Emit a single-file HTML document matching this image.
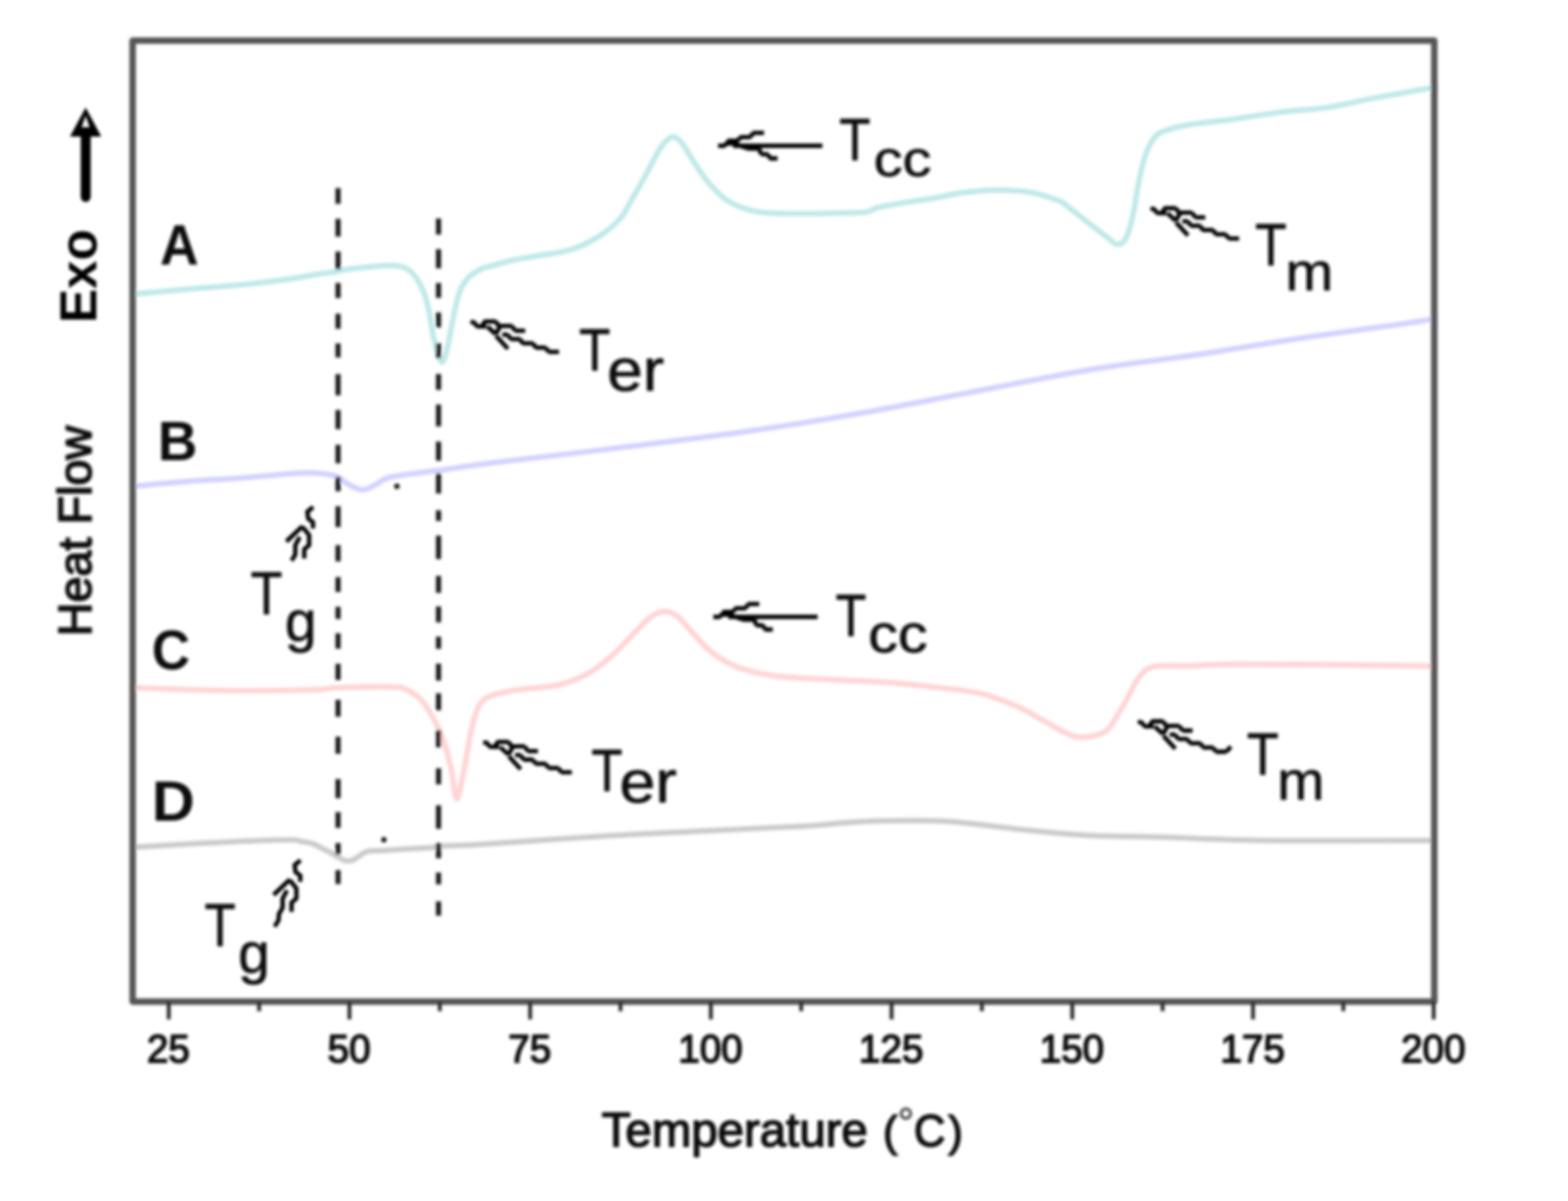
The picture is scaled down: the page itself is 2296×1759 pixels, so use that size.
<!DOCTYPE html><html><head><meta charset="utf-8"><title>DSC thermograms</title><style>html,body{margin:0;padding:0;background:#fff;overflow:hidden}svg{display:block}</style></head><body>
<svg xmlns="http://www.w3.org/2000/svg" width="2296" height="1759" viewBox="0 0 2296 1759">
<defs><filter id="bl" x="0" y="0" width="2296" height="1759" filterUnits="userSpaceOnUse"><feGaussianBlur stdDeviation="2.0"/></filter></defs>
<rect width="2296" height="1759" fill="#fff"/>
<g filter="url(#bl)">
<path d="M194.0,431.0 C207.0,429.8 245.3,426.0 272.0,423.7 C298.7,421.4 328.9,419.5 354.0,417.0 C379.1,414.5 404.3,411.2 422.6,408.7 C440.9,406.2 451.8,403.6 463.6,401.8 C475.5,400.0 486.9,398.8 493.7,397.7 C500.5,396.6 493.7,396.4 504.6,395.0 C515.6,393.6 546.8,390.1 559.4,389.2 C572.0,388.2 574.6,388.9 580.0,389.3 C585.4,389.7 588.7,390.6 592.0,391.8 C595.3,393.0 597.0,393.8 600.0,396.4 C603.0,399.0 606.5,402.1 610.0,407.5 C613.5,412.9 617.7,420.9 620.7,428.9 C623.7,436.9 626.1,445.9 628.2,455.7 C630.4,465.5 631.6,478.0 633.6,487.8 C635.6,497.6 637.7,507.5 640.0,514.6 C642.3,521.8 645.2,530.7 647.5,530.7 C649.8,530.7 651.9,521.8 653.9,514.6 C655.9,507.5 657.3,497.6 659.3,487.8 C661.3,478.0 663.4,465.9 665.7,455.7 C668.0,445.5 670.0,434.8 673.2,426.8 C676.4,418.8 680.0,412.9 685.0,407.5 C690.0,402.1 697.4,397.6 703.2,394.6 C709.0,391.6 712.0,391.6 720.0,389.3 C728.0,387.0 740.2,383.4 751.0,381.0 C761.8,378.6 771.0,377.5 785.0,375.0 C799.0,372.5 819.6,370.7 834.7,366.0 C849.8,361.3 863.5,354.7 875.8,347.0 C888.1,339.3 900.4,328.7 908.6,319.6 C916.8,310.5 919.1,302.3 925.0,292.3 C930.9,282.3 937.2,271.7 944.0,259.4 C950.8,247.1 959.4,228.2 966.0,218.4 C972.6,208.6 978.3,202.0 983.8,200.6 C989.3,199.2 993.2,203.6 998.9,210.2 C1004.6,216.8 1011.1,230.3 1018.0,240.3 C1024.8,250.3 1031.8,261.3 1040.0,270.4 C1048.2,279.5 1055.7,288.4 1067.0,295.0 C1078.3,301.6 1092.0,307.0 1108.0,310.0 C1124.0,313.0 1142.7,312.5 1163.0,312.8 C1183.3,313.1 1212.4,312.4 1230.0,312.0 C1247.6,311.6 1259.1,311.9 1268.6,310.5 C1278.1,309.1 1276.2,306.0 1286.9,303.5 C1297.6,301.0 1318.8,297.9 1332.5,295.6 C1346.2,293.4 1356.8,292.1 1369.0,290.0 C1381.2,287.9 1393.3,284.6 1405.5,282.8 C1417.7,281.0 1429.8,279.9 1442.0,279.2 C1454.2,278.5 1466.3,278.2 1478.5,278.8 C1490.7,279.4 1503.1,280.3 1515.0,282.8 C1526.9,285.3 1542.7,291.1 1550.0,293.8 C1557.3,296.5 1552.5,294.2 1559.0,299.0 C1565.5,303.8 1578.9,314.8 1589.0,322.7 C1599.1,330.6 1611.8,340.4 1619.7,346.3 C1627.6,352.2 1631.5,358.1 1636.6,358.1 C1641.6,358.1 1646.1,354.5 1650.0,346.3 C1653.9,338.1 1657.4,322.1 1660.2,309.2 C1663.0,296.3 1664.2,282.2 1667.0,268.7 C1669.8,255.2 1673.1,239.4 1677.0,228.2 C1680.9,216.9 1685.5,207.4 1690.6,201.2 C1695.7,195.0 1699.0,194.1 1707.4,191.0 C1715.8,187.9 1724.1,185.5 1741.0,182.7 C1757.9,179.9 1786.2,177.3 1808.7,174.2 C1831.2,171.1 1853.5,166.9 1876.0,164.1 C1898.5,161.3 1921.1,160.8 1943.6,157.4 C1966.1,154.0 1984.9,148.8 2011.0,143.9 C2037.1,139.0 2085.2,130.7 2100.0,128.0" fill="none" stroke="#c0e8e8" stroke-width="8" stroke-linejoin="round" stroke-linecap="round"/>
<path d="M194.0,712.5 C207.0,711.3 245.3,707.4 272.0,705.3 C298.7,703.2 326.6,701.9 354.0,699.9 C381.4,697.9 417.9,694.1 436.2,693.0 C454.5,691.9 454.5,692.3 463.6,693.0 C472.7,693.7 482.8,694.1 491.0,697.1 C499.2,700.1 506.0,707.4 512.8,710.8 C519.6,714.2 525.6,717.8 532.0,717.6 C538.4,717.4 544.2,712.6 551.0,709.4 C557.8,706.2 557.9,701.9 573.0,698.5 C588.1,695.1 618.6,692.2 641.4,689.0 C664.2,685.8 686.7,682.3 709.8,679.3 C732.9,676.3 741.7,675.5 780.0,670.9 C818.3,666.3 886.4,658.4 939.6,651.7 C992.8,645.1 1046.0,638.7 1099.2,631.0 C1152.4,623.3 1205.6,614.7 1258.8,605.4 C1312.0,596.1 1361.5,585.9 1418.4,575.1 C1475.4,564.3 1545.1,550.0 1600.5,540.8 C1655.9,531.6 1700.8,527.3 1751.0,519.8 C1801.2,512.3 1851.2,503.2 1901.4,495.7 C1951.6,488.2 2018.9,479.4 2052.0,474.6 C2085.1,469.8 2092.0,468.3 2100.0,467.0" fill="none" stroke="#d2d2ff" stroke-width="8" stroke-linejoin="round" stroke-linecap="round"/>
<path d="M194.0,1007.2 C216.1,1007.9 281.9,1010.8 326.8,1011.3 C371.7,1011.8 436.2,1010.7 463.6,1010.0 C491.0,1009.3 472.8,1007.9 491.0,1007.2 C509.2,1006.5 555.7,1005.4 573.0,1005.9 C590.3,1006.4 587.7,1006.8 595.0,1010.0 C602.3,1013.2 610.4,1018.4 616.8,1025.0 C623.2,1031.6 627.7,1039.6 633.2,1049.6 C638.7,1059.6 645.0,1072.4 649.6,1085.2 C654.2,1098.0 657.4,1112.1 660.6,1126.2 C663.8,1140.3 665.6,1170.0 668.8,1170.0 C672.0,1170.0 676.1,1143.5 679.7,1126.2 C683.4,1108.9 687.1,1081.5 690.7,1066.0 C694.4,1050.5 697.1,1041.0 701.6,1033.2 C706.1,1025.5 709.8,1023.1 718.0,1019.5 C726.2,1015.9 739.1,1013.4 750.9,1011.3 C762.7,1009.2 777.3,1008.5 789.0,1007.0 C800.7,1005.5 808.8,1005.8 821.0,1002.3 C833.2,998.8 849.7,992.8 862.0,985.9 C874.3,979.0 884.5,970.3 895.0,961.2 C905.5,952.1 915.4,940.7 925.0,931.1 C934.6,921.5 944.2,909.7 952.4,903.8 C960.6,897.9 967.5,895.6 974.3,895.6 C981.1,895.6 986.1,897.9 993.4,903.8 C1000.7,909.7 1009.8,922.4 1018.0,931.1 C1026.2,939.8 1032.1,948.0 1042.6,955.8 C1053.1,963.5 1065.5,971.9 1081.0,977.6 C1096.5,983.3 1112.9,987.0 1135.7,990.0 C1158.5,993.0 1190.4,993.8 1217.7,995.4 C1245.0,997.0 1272.8,997.5 1299.8,999.5 C1326.8,1001.5 1358.4,1005.1 1380.0,1007.6 C1401.6,1010.1 1415.6,1011.5 1429.3,1014.2 C1443.0,1016.9 1451.0,1020.2 1462.0,1024.0 C1473.0,1027.8 1484.0,1032.0 1495.0,1037.2 C1506.0,1042.4 1516.9,1049.2 1527.8,1055.2 C1538.7,1061.2 1551.0,1069.2 1560.6,1073.3 C1570.2,1077.4 1575.7,1080.2 1585.3,1079.9 C1594.9,1079.6 1609.8,1076.6 1618.0,1071.7 C1626.2,1066.8 1629.0,1058.5 1634.5,1050.3 C1640.0,1042.1 1645.5,1032.0 1651.0,1022.4 C1656.5,1012.8 1661.1,1000.5 1667.4,992.8 C1673.7,985.1 1676.6,979.3 1688.7,976.4 C1700.8,973.5 1720.0,975.8 1740.0,975.2 C1760.0,974.6 1763.5,973.2 1808.7,973.0 C1853.9,972.8 1962.5,973.7 2011.0,974.2 C2059.6,974.7 2085.2,975.6 2100.0,975.9" fill="none" stroke="#ffd4d4" stroke-width="8" stroke-linejoin="round" stroke-linecap="round"/>
<path d="M194.0,1241.0 C208.1,1240.2 251.4,1237.5 278.6,1236.0 C305.8,1234.5 332.6,1233.0 357.2,1232.0 C381.8,1231.0 412.2,1230.0 426.0,1230.0 C439.8,1230.0 434.7,1231.2 440.0,1232.2 C445.3,1233.2 451.9,1233.7 457.8,1235.7 C463.7,1237.8 471.0,1242.2 475.6,1244.5 C480.2,1246.8 481.8,1247.4 485.5,1249.5 C489.2,1251.6 494.4,1255.1 498.0,1257.0 C501.6,1258.9 504.1,1260.7 507.4,1261.0 C510.7,1261.3 514.2,1260.7 518.0,1259.0 C521.8,1257.3 526.3,1253.1 530.0,1251.0 C533.7,1248.9 535.2,1247.4 540.0,1246.5 C544.8,1245.6 549.6,1246.3 558.6,1245.8 C567.6,1245.3 582.1,1244.1 594.0,1243.4 C605.9,1242.7 619.8,1242.4 629.7,1241.6 C639.6,1240.8 641.7,1239.5 653.4,1238.7 C665.1,1237.9 661.6,1239.3 700.0,1236.9 C738.4,1234.5 820.9,1228.2 884.0,1224.5 C947.1,1220.8 1028.8,1217.2 1078.5,1214.7 C1128.2,1212.2 1155.6,1211.3 1182.0,1209.7 C1208.4,1208.1 1218.5,1206.2 1236.8,1205.0 C1255.0,1203.8 1268.7,1202.8 1291.5,1202.3 C1314.3,1201.8 1350.8,1201.5 1373.6,1202.3 C1396.4,1203.1 1405.5,1204.6 1428.3,1207.0 C1451.1,1209.4 1483.0,1213.8 1510.4,1216.5 C1537.8,1219.2 1560.9,1221.8 1592.5,1223.4 C1624.1,1225.0 1656.2,1224.8 1700.0,1226.1 C1743.8,1227.4 1788.8,1230.2 1855.5,1231.0 C1922.2,1231.8 2059.2,1231.0 2100.0,1231.0" fill="none" stroke="#cbcbcb" stroke-width="8" stroke-linejoin="round" stroke-linecap="round"/>
<path d="M495.0,275.5V298.5M495.0,320.5V346.5M495.0,368.5V394.5M495.0,414.5V436.5M495.0,459.5V481.5M495.0,503.0V523.5M495.0,547.9V579.0M495.0,600.5V628.5M495.0,651.5V678.5M495.0,698.5V719.5M495.0,741.5V772.0M495.0,798.5V822.2M495.0,845.3V867.1M495.0,888.7V906.5M495.0,927.4V949.9M495.0,972.3V995.7M495.0,1025.0V1049.8M495.0,1079.1V1104.0M495.0,1141.1V1169.0M495.0,1189.5V1212.5M495.0,1234.8V1251.5M495.0,1274.5V1294.7M642.1,320.1V343.4M642.1,365.0V392.9M642.1,414.5V436.3M642.1,457.8V479.6M642.1,502.7V524.5M642.1,547.7V571.0M642.1,592.6V624.4M642.1,646.8V674.7M642.1,693.2V722.7M642.1,747.4V763.0M642.1,784.6V818.7M642.1,843.4V868.3M642.1,888.3V911.6M642.1,932.4V950.3M642.1,971.9V996.8M642.1,1015.4V1040.3M642.1,1069.6V1094.5M642.1,1125.3V1148.7M642.1,1179.5V1213.7M642.1,1234.7V1256.9M642.1,1278.1V1295.3M642.1,1320.2V1340.9" stroke="#1c1c1c" stroke-width="7.5" fill="none"/>
<circle cx="581.2" cy="712.2" r="3.9" fill="#111"/>
<circle cx="562.1" cy="1229.8" r="3.9" fill="#111"/>
<path d="M194.2,59.6H2100.2V1466.9H194.2Z" fill="none" stroke="#555555" stroke-width="9.5" stroke-linejoin="round"/>
<path d="M247.1,1466.9V1493.0 M511.7,1466.9V1493.0 M776.3,1466.9V1493.0 M1040.9,1466.9V1493.0 M1305.5,1466.9V1493.0 M1570.1,1466.9V1493.0 M1834.7,1466.9V1493.0 M2099.3,1466.9V1493.0 M379.4,1466.9V1481.0 M644.0,1466.9V1481.0 M908.6,1466.9V1481.0 M1173.2,1466.9V1481.0 M1437.8,1466.9V1481.0 M1702.4,1466.9V1481.0 M1967.0,1466.9V1481.0" stroke="#262626" stroke-width="5.5" fill="none"/>
<g font-family="Liberation Sans, Arial, Helvetica, sans-serif" fill="#111">
<text x="246.6" y="1556.3" font-size="56.5" text-anchor="middle" stroke="#111" stroke-width="2.2">25</text>
<text x="511.2" y="1556.3" font-size="56.5" text-anchor="middle" stroke="#111" stroke-width="2.2">50</text>
<text x="775.8" y="1556.3" font-size="56.5" text-anchor="middle" stroke="#111" stroke-width="2.2">75</text>
<text x="1040.4" y="1556.3" font-size="56.5" text-anchor="middle" stroke="#111" stroke-width="2.2">100</text>
<text x="1305.0" y="1556.3" font-size="56.5" text-anchor="middle" stroke="#111" stroke-width="2.2">125</text>
<text x="1569.6" y="1556.3" font-size="56.5" text-anchor="middle" stroke="#111" stroke-width="2.2">150</text>
<text x="1834.2" y="1556.3" font-size="56.5" text-anchor="middle" stroke="#111" stroke-width="2.2">175</text>
<text x="2098.8" y="1556.3" font-size="56.5" text-anchor="middle" stroke="#111" stroke-width="2.2">200</text>
<text transform="translate(881.11,1678.6) scale(0.99,1)" font-size="70.1" stroke="#111" stroke-width="2.2">Temperature</text>
<text x="1293.1" y="1678.6" font-size="63" stroke="#111" stroke-width="2.2">(</text>
<text transform="translate(1338.2,1678.6) scale(0.946,1)" font-size="67.3" stroke="#111" stroke-width="2.2">C</text>
<text x="1388.8" y="1678.6" font-size="63" stroke="#111" stroke-width="2.2">)</text>
<circle cx="1326.5" cy="1631" r="7" fill="none" stroke="#555" stroke-width="4.5"/>
<text transform="translate(133.3,931.9) rotate(-90) scale(0.997,1)" font-size="68.7" stroke="#111" stroke-width="2.4">Heat Flow</text>
<text transform="translate(141.3,473.0) rotate(-90) scale(0.991,1)" font-size="75.4" font-weight="bold" fill="#000">Exo</text>
<text transform="translate(234.35,388.14) scale(0.9363,1)" font-size="83.82" font-weight="bold">A</text>
<text transform="translate(231.08,673.50) scale(0.9880,1)" font-size="81.30" font-weight="bold">B</text>
<text transform="translate(222.20,979.58) scale(0.9427,1)" font-size="82.25" font-weight="bold">C</text>
<text transform="translate(222.30,1202.10) scale(1.0466,1)" font-size="83.33" font-weight="bold">D</text>
<text transform="translate(1229.11,234.20) scale(0.8566,1)" font-size="87.25" stroke="#111" stroke-width="1.0">T</text>
<text transform="translate(1279.22,258.15) scale(1.1324,1)" font-size="74.73" stroke="#111" stroke-width="1.0">cc</text>
<text transform="translate(1838.09,388.30) scale(0.8584,1)" font-size="87.68" stroke="#111" stroke-width="1.0">T</text>
<text transform="translate(1882.22,424.70) scale(1.0904,1)" font-size="77.04" stroke="#111" stroke-width="1.0">m</text>
<text transform="translate(848.00,542.30) scale(0.8644,1)" font-size="86.67" stroke="#111" stroke-width="1.0">T</text>
<text transform="translate(888.95,572.23) scale(1.0822,1)" font-size="86.73" stroke="#111" stroke-width="1.0">er</text>
<text transform="translate(367.08,899.70) scale(0.8599,1)" font-size="88.55" stroke="#111" stroke-width="1.0">T</text>
<text transform="translate(417.17,938.55) scale(1.0027,1)" font-size="83.11" stroke="#111" stroke-width="1.0">g</text>
<text transform="translate(1223.42,930.80) scale(0.8466,1)" font-size="87.25" stroke="#111" stroke-width="1.0">T</text>
<text transform="translate(1271.32,955.33) scale(1.1270,1)" font-size="77.09" stroke="#111" stroke-width="1.0">cc</text>
<text transform="translate(1825.87,1134.00) scale(0.8782,1)" font-size="87.10" stroke="#111" stroke-width="1.0">T</text>
<text transform="translate(1870.20,1171.10) scale(1.0405,1)" font-size="79.63" stroke="#111" stroke-width="1.0">m</text>
<text transform="translate(866.01,1158.00) scale(0.8632,1)" font-size="86.38" stroke="#111" stroke-width="1.0">T</text>
<text transform="translate(906.91,1175.43) scale(1.0919,1)" font-size="86.73" stroke="#111" stroke-width="1.0">er</text>
<text transform="translate(299.51,1386.30) scale(0.8420,1)" font-size="88.55" stroke="#111" stroke-width="1.0">T</text>
<text transform="translate(348.67,1425.15) scale(1.0027,1)" font-size="83.11" stroke="#111" stroke-width="1.0">g</text>
</g>
<path d="M125.5,193.5V288.5" stroke="#000" stroke-width="14.5" stroke-linecap="round"/>
<path d="M125.4,157.5L102.5,200L148.3,200ZM125.4,169.5L119.6,186.5L131.2,186.5Z" fill="#000" fill-rule="evenodd"/>
<g stroke="#050505" stroke-width="6.3" fill="none" stroke-linejoin="round" stroke-linecap="butt">
<path transform="translate(1051.5,213.5)" d="M0.0,0.0H10.7M13.1,-7.4H30.4M31.2,-12.7H48.4M50.1,-18.9H67.3M22.0,0.0H152.7M13.1,-3.5H30.4M41.9,4.1H60.7M62.4,12.3H73.9M74.7,18.5H87.0M10.0,0.0L14.0,-6.0M30.0,-1.0L42.0,3.5M30.4,-7.4L31.2,-12.7M48.4,-12.7L50.1,-18.9M60.7,4.1L62.4,12.3M73.9,12.3L74.7,18.5"/>
<path transform="translate(1044.5,903.5)" d="M0.0,0.0H10.7M13.1,-7.4H30.4M31.2,-12.7H48.4M50.1,-18.9H67.3M22.0,0.0H152.7M13.1,-3.5H30.4M41.9,4.1H60.7M62.4,12.3H73.9M74.7,18.5H87.0M10.0,0.0L14.0,-6.0M30.0,-1.0L42.0,3.5M30.4,-7.4L31.2,-12.7M48.4,-12.7L50.1,-18.9M60.7,4.1L62.4,12.3M73.9,12.3L74.7,18.5"/>
<path transform="translate(1684.6,305.9)" d="M0.0,0.0H6.6M8.7,6.2H23.4M19.7,-1.1H37.9M40.8,5.5H61.3M64.9,12.4H80.2M46.7,18.2H55.4M58.4,24.8H73.7M75.8,31.0H92.6M94.8,37.2H110.9M113.8,43.4H129.8M5.5,0.0L9.5,6.0M17.0,6.0L21.0,-1.0M25.0,6.5L37.0,17.5M37.0,17.5L43.0,7.0M37.5,20.0L55.0,39.0M37.9,-1.1L40.8,5.5M61.3,5.5L64.9,12.4M55.4,18.2L58.4,24.8M73.7,24.8L75.8,31.0M92.6,31.0L94.8,37.2M110.9,37.2L113.8,43.4"/>
<path transform="translate(1666,1057.6)" d="M0.0,0.0H6.6M8.7,6.2H23.4M19.7,-1.1H37.9M40.8,5.5H61.3M64.9,12.4H80.2M46.7,18.2H55.4M58.4,24.8H73.7M75.8,31.0H92.6M94.8,37.2H110.9M113.8,43.4H129.8M5.5,0.0L9.5,6.0M17.0,6.0L21.0,-1.0M25.0,6.5L37.0,17.5M37.0,17.5L43.0,7.0M37.5,20.0L55.0,39.0M37.9,-1.1L40.8,5.5M61.3,5.5L64.9,12.4M55.4,18.2L58.4,24.8M73.7,24.8L75.8,31.0M92.6,31.0L94.8,37.2M110.9,37.2L113.8,43.4 M129.8,43.4L136.3,35.8"/>
<path transform="translate(688.8,471.9)" d="M0.0,0.0H6.6M8.7,6.2H23.4M19.7,-1.1H37.9M40.8,5.5H61.3M64.9,12.4H80.2M46.7,18.2H55.4M58.4,24.8H73.7M75.8,31.0H92.6M94.8,37.2H110.9M113.8,43.4H129.8M5.5,0.0L9.5,6.0M17.0,6.0L21.0,-1.0M25.0,6.5L37.0,17.5M37.0,17.5L43.0,7.0M37.5,20.0L55.0,39.0M37.9,-1.1L40.8,5.5M61.3,5.5L64.9,12.4M55.4,18.2L58.4,24.8M73.7,24.8L75.8,31.0M92.6,31.0L94.8,37.2M110.9,37.2L113.8,43.4"/>
<path transform="translate(707.5,1087.7)" d="M0.0,0.0H6.6M8.7,6.2H23.4M19.7,-1.1H37.9M40.8,5.5H61.3M64.9,12.4H80.2M46.7,18.2H55.4M58.4,24.8H73.7M75.8,31.0H92.6M94.8,37.2H110.9M113.8,43.4H129.8M5.5,0.0L9.5,6.0M17.0,6.0L21.0,-1.0M25.0,6.5L37.0,17.5M37.0,17.5L43.0,7.0M37.5,20.0L55.0,39.0M37.9,-1.1L40.8,5.5M61.3,5.5L64.9,12.4M55.4,18.2L58.4,24.8M73.7,24.8L75.8,31.0M92.6,31.0L94.8,37.2M110.9,37.2L113.8,43.4"/>
<path transform="translate(458.6,742.5)" d="M0,0L-8.6,7L-7.2,17.2L-0.3,22.2L-0.3,31.5M-15.5,28L-39.3,50.6M-15.5,29.2L-6,41.1L-6,56L-13.1,61.9L-13.1,75.6M-19.7,44L-26.2,56L-26.2,69.6L-31.6,78.6"/>
<path transform="translate(440,1260)" d="M0,0L-8.6,7L-7.2,17.2L-0.3,22.2L-0.3,31.5M-15.5,28L-39.3,50.6M-15.5,29.2L-6,41.1L-6,56L-13.1,61.9L-13.1,75.6M-19.7,44L-26.2,56L-26.2,69.6L-31.6,78.6 L-32.1,87.9L-37.9,97.1"/>
</g>
</g></svg></body></html>
